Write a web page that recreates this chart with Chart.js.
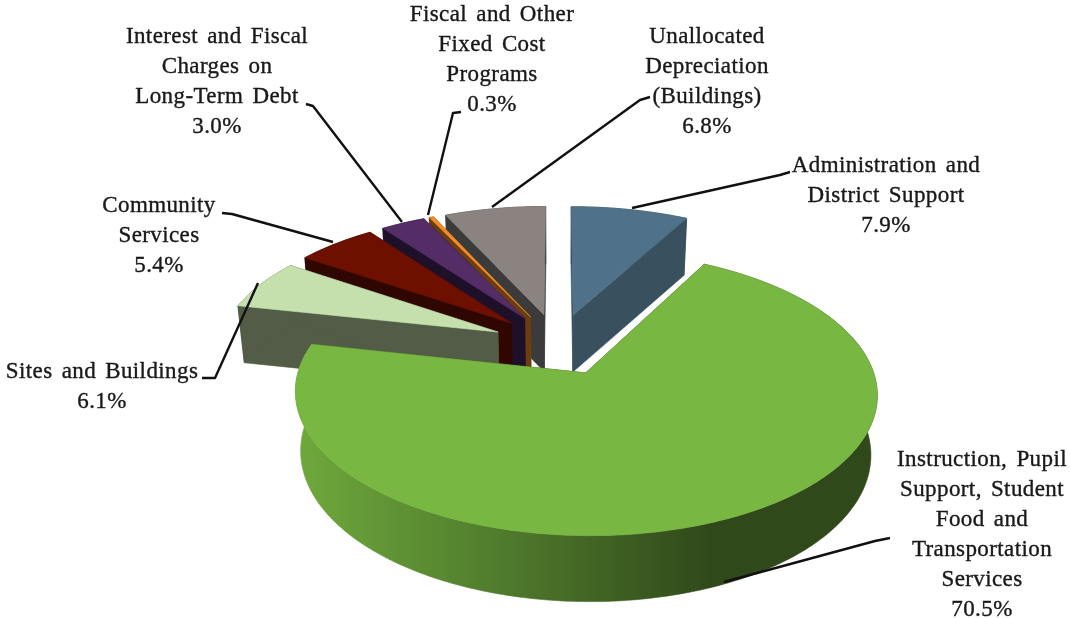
<!DOCTYPE html>
<html>
<head>
<meta charset="utf-8">
<title>Expenditures by function</title>
<style>
  html, body { margin: 0; padding: 0; background: #fff; }
  canvas { display: block; }
</style>
<script src="https://cdn.jsdelivr.net/npm/chart.js@4/dist/chart.umd.min.js"></script>
</head>
<body>
<canvas id="pie" width="1070" height="618"></canvas>
<script>
// Share of spending by function, clockwise from twelve o'clock
const categories = [
  ['Administration and', 'District Support'],
  ['Instruction, Pupil', 'Support, Student', 'Food and', 'Transportation', 'Services'],
  ['Sites and Buildings'],
  ['Community', 'Services'],
  ['Interest and Fiscal', 'Charges on', 'Long-Term Debt'],
  ['Fiscal and Other', 'Fixed Cost', 'Programs'],
  ['Unallocated', 'Depreciation', '(Buildings)']
];
const shares = [7.9, 70.5, 6.1, 5.4, 3.0, 0.3, 6.8];
const topColors = ['#4f728a', '#78b741', '#c6e0ad', '#6e1000', '#542c66', '#f28c2a', '#8b8380'];
const wallColors = ['#39505f', '#30491a', '#525c46', '#2f0700', '#1f1029', '#6b3d10', '#3c3b3b'];

// Rim of the main slice fades from light at the left to dark at the right
const rimFade = { 1: ['#6ea83c', '#4f7a2c', '#30491a'] };

// Label placement: centre x, y of first line, then the leader's polyline
const labelLayout = [
  { x: 886, y: 166, line: [[790, 172], [780, 175], [632, 208]] },
  { x: 982, y: 460, line: [[890, 538], [875, 541], [724, 582]] },
  { x: 102, y: 372, line: [[202, 378], [215, 378], [258, 283]] },
  { x: 159, y: 206, line: [[222, 213], [232, 214], [333, 242]] },
  { x: 217, y: 37,  line: [[306, 104], [313, 106], [402, 222]] },
  { x: 492, y: 15,  line: [[461, 112], [453, 113], [428, 215]] },
  { x: 707, y: 37,  line: [[650, 97], [640, 100], [492, 207]] }
];
const lineStep = 30;

// Tilted-disc projection of the pie plane
const view = { shiftX: 22.5, shiftY: 35, scaleX: 1.01, scaleY: 0.474, perspective: 0.14, depth: 57, taper: 0.98 };

function project(el, X, Y) {
  const r = el.outerRadius;
  const w = 1 / (1 - view.perspective * Y);
  return {
    x: el.x + view.shiftX + r * view.scaleX * X * w,
    y: el.y + view.shiftY + r * view.scaleY * Y * w,
    Y
  };
}

// The same point on the underside of the slab
function drop(el, p) {
  const cx = el.x + view.shiftX;
  const h = view.depth * (p.Y > 0 ? 1 + 0.13 * p.Y : 1);
  return { x: cx + (p.x - cx) * view.taper, y: p.y + h };
}

function fillPolygon(ctx, pts, fill) {
  ctx.beginPath();
  pts.forEach((p, i) => (i ? ctx.lineTo(p.x, p.y) : ctx.moveTo(p.x, p.y)));
  ctx.closePath();
  ctx.fillStyle = fill;
  ctx.fill();
  ctx.strokeStyle = fill;
  ctx.lineWidth = 0.6;
  ctx.stroke();
}

function drawSlice(ctx, el, index) {
  const { startAngle, endAngle, outerRadius, options } = el;
  const mid = (startAngle + endAngle) / 2;
  const e = options.offset / outerRadius;
  const ox = e * Math.cos(mid);
  const oy = e * Math.sin(mid);
  const tip = project(el, ox, oy);
  const steps = Math.max(4, Math.ceil((endAngle - startAngle) * 60));
  const rim = [];
  for (let i = 0; i <= steps; i++) {
    const a = startAngle + (endAngle - startAngle) * i / steps;
    rim.push(project(el, ox + Math.cos(a), oy + Math.sin(a)));
  }
  const wall = options.borderColor;
  const first = rim[0];
  const last = rim[rim.length - 1];

  // Cut faces
  fillPolygon(ctx, [tip, first, drop(el, first), drop(el, tip)], wall);
  fillPolygon(ctx, [tip, last, drop(el, last), drop(el, tip)], wall);

  // Curved outer face
  let rimFill = wall;
  if (rimFade[index]) {
    const g = ctx.createLinearGradient(300, 0, 710, 0);
    rimFade[index].forEach((c, i, all) => g.addColorStop(i / (all.length - 1), c));
    rimFill = g;
  }
  fillPolygon(ctx, rim.concat(rim.map(p => drop(el, p)).reverse()), rimFill);

  // Top face
  fillPolygon(ctx, [tip].concat(rim), options.backgroundColor);
}

const tiltedPie = {
  id: 'tiltedPie',
  beforeDatasetsDraw(chart) {
    const ctx = chart.ctx;
    const arcs = chart.getDatasetMeta(0).data;
    const depthOf = el => Math.sin((el.startAngle + el.endAngle) / 2);
    const order = arcs.map((el, i) => i).sort((a, b) => depthOf(arcs[a]) - depthOf(arcs[b]));
    ctx.save();
    order.forEach(i => drawSlice(ctx, arcs[i], i));
    ctx.restore();
    return false;
  }
};

const sliceLabels = {
  id: 'sliceLabels',
  afterDraw(chart) {
    const ctx = chart.ctx;
    ctx.save();
    ctx.strokeStyle = '#111';
    ctx.lineJoin = 'round';
    ctx.fillStyle = '#1a1a1a';
    ctx.font = '23px "Liberation Serif"';
    ctx.letterSpacing = '0.4px';
    ctx.wordSpacing = '3px';
    ctx.textAlign = 'center';
    ctx.textBaseline = 'middle';
    categories.forEach((lines, i) => {
      const spot = labelLayout[i];
      ctx.beginPath();
      spot.line.forEach((p, k) => (k ? ctx.lineTo(p[0], p[1]) : ctx.moveTo(p[0], p[1])));
      ctx.lineWidth = 2.4;
      ctx.stroke();
      const text = lines.concat(shares[i].toFixed(1) + '%');
      ctx.lineWidth = 0.35;
      text.forEach((t, k) => {
        ctx.fillText(t, spot.x, spot.y + k * lineStep);
        ctx.strokeText(t, spot.x, spot.y + k * lineStep);
      });
    });
    ctx.restore();
  }
};

new Chart(document.getElementById('pie'), {
  type: 'pie',
  data: {
    labels: categories,
    datasets: [{
      data: shares,
      backgroundColor: topColors,
      borderColor: wallColors,
      borderWidth: 0,
      offset: 65
    }]
  },
  options: {
    responsive: false,
    animation: false,
    layout: { padding: 0 },
    plugins: { legend: { display: false }, tooltip: { enabled: false } }
  },
  plugins: [tiltedPie, sliceLabels]
});
</script>
</body>
</html>
